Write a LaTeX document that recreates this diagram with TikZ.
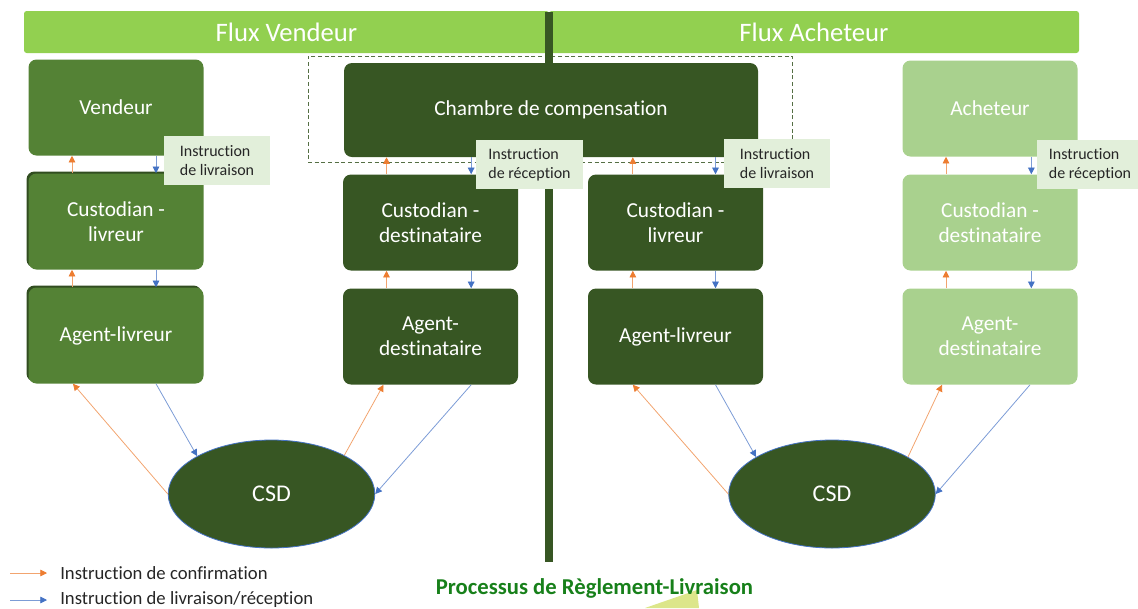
\documentclass[tikz,border=0pt]{standalone}
\usepackage{fontspec}
\setmainfont{Carlito}[Ligatures=NoCommon]
\usetikzlibrary{arrows.meta,shapes.geometric,shadows}
\definecolor{barGreen}{HTML}{92D050}
\definecolor{midGreen}{HTML}{548235}
\definecolor{darkGreen}{HTML}{375623}
\definecolor{paleGreen}{HTML}{A9D18E}
\definecolor{noteGreen}{HTML}{E2EFDA}
\definecolor{confOrange}{HTML}{ED7D31}
\definecolor{instBlue}{HTML}{4472C4}
\definecolor{titleGreen}{HTML}{17801A}
\definecolor{glowYellow}{HTML}{DCE68A}
\tikzstyle{header} = [rectangle, fill=barGreen, rounded corners=2pt, text=white, text centered, minimum height=31.5pt, font=\fontsize{20}{22}\selectfont]
\tikzstyle{party} = [rectangle, rounded corners=6pt, text=white, text centered, align=center, minimum width=131.25pt, minimum height=72pt, font=\fontsize{16}{19}\selectfont]
\tikzstyle{seller} = [party, fill=midGreen]
\tikzstyle{sellershadow} = [seller, drop shadow={shadow xshift=-1.5pt, shadow yshift=1.5pt, fill=darkGreen!90!black, opacity=1}]
\tikzstyle{middle} = [party, fill=darkGreen]
\tikzstyle{buyer} = [party, fill=paleGreen]
\tikzstyle{note} = [rectangle, fill=noteGreen, text=black!85, align=left, inner sep=4pt, minimum width=80pt, minimum height=36.75pt, font=\fontsize{12}{14}\selectfont]
\tikzstyle{depot} = [ellipse, fill=darkGreen, draw=instBlue, line width=0.6pt, text=white, minimum width=155pt, minimum height=81pt, font=\fontsize{18}{20}\selectfont]
\tikzstyle{dashframe} = [rectangle, draw=darkGreen!85, dash pattern=on 3pt off 2pt, line width=0.7pt]
\tikzstyle{confirm} = [line width=0.6pt, draw=confOrange!70, -{Triangle[length=5pt,width=5pt,color=confOrange]}]
\tikzstyle{instruct} = [line width=0.6pt, draw=instBlue!70, -{Triangle[length=5pt,width=5pt,color=instBlue]}]
\tikzstyle{legendtext} = [anchor=west, inner sep=0pt, text=black!85, font=\fontsize{14}{16}\selectfont]

\begin{document}
\begin{tikzpicture}[x=0.75pt, y=-0.75pt, node distance=85.5pt]
        \useasboundingbox (0,0) rectangle (1138,608);
        % bandeau du haut
        \node (fluxV) [header, minimum width=393.75pt] at (286.5,32) {Flux Vendeur};
        \node (fluxA) [header, minimum width=397.5pt] at (814,32) {Flux Acheteur};
        % cadre + separation
        \node (cadre) [dashframe, minimum width=363pt, minimum height=79.5pt] at (550,109) {};
        \coordinate (divtop) at (549,12);
        \coordinate (divbot) at (549,562);
        \draw [darkGreen, line width=6pt] (divtop) -- (divbot);
        \node (chambre) [middle, minimum width=310.5pt, minimum height=70.5pt] at (551,110) {Chambre de compensation};
        % colonne vendeur
        \node (vendeur) [seller] at (116,107.5) {Vendeur};
        \node (custA) [sellershadow, below of = vendeur] {Custodian -\\livreur};
        \node (agentA) [sellershadow, below of = custA] {Agent-livreur};
        % colonne destinataire (vendeur)
        \node (custB) [middle] at (430.5,222.5) {Custodian -\\destinataire};
        \node (agentB) [middle, below of = custB] {Agent-\\destinataire};
        % colonne livreur (acheteur)
        \node (custC) [middle] at (675.5,222.5) {Custodian -\\livreur};
        \node (agentC) [middle, below of = custC] {Agent-livreur};
        % colonne acheteur
        \node (acheteur) [buyer] at (990,108.5) {Acheteur};
        \node (custD) [buyer, below of = acheteur] {Custodian -\\destinataire};
        \node (agentD) [buyer, below of = custD] {Agent-\\destinataire};
        % depositaires
        \node (csdA) [depot] at (271.5,494) {CSD};
        \node (csdB) [depot] at (832,494) {CSD};
        % etiquettes
        \node (noteA) [note] at (217,160.5) {Instruction\\de livraison};
        \node (noteB) [note] at (529.5,164.5) {Instruction\\de réception};
        \node (noteC) [note] at (777,163.5) {Instruction\\de livraison};
        \node (noteD) [note] at (1090,164.5) {Instruction\\de réception};
        % fleches verticales
        \draw [confirm] ([xshift=-33pt]custA.north) -- ([xshift=-33pt]vendeur.south);
        \draw [instruct] ([xshift=30pt]vendeur.south) -- ([xshift=30pt]custA.north);
        \draw [confirm] ([xshift=-33pt]agentA.north) -- ([xshift=-33pt]custA.south);
        \draw [instruct] ([xshift=30pt]custA.south) -- ([xshift=30pt]agentA.north);
        \draw [confirm] ([xshift=-33pt]custB.north) -- ([xshift=-33pt]custB.north |- chambre.south);
        \draw [instruct] ([xshift=30.5pt]custB.north |- chambre.south) -- ([xshift=30.5pt]custB.north);
        \draw [confirm] ([xshift=-33pt]agentB.north) -- ([xshift=-33pt]custB.south);
        \draw [instruct] ([xshift=30.5pt]custB.south) -- ([xshift=30.5pt]agentB.north);
        \draw [confirm] ([xshift=-32pt]custC.north) -- ([xshift=-32pt]custC.north |- chambre.south);
        \draw [instruct] ([xshift=30pt]custC.north |- chambre.south) -- ([xshift=30pt]custC.north);
        \draw [confirm] ([xshift=-32pt]agentC.north) -- ([xshift=-32pt]custC.south);
        \draw [instruct] ([xshift=30pt]custC.south) -- ([xshift=30pt]agentC.north);
        \draw [confirm] ([xshift=-33pt]custD.north) -- ([xshift=-33pt]acheteur.south);
        \draw [instruct] ([xshift=31pt]acheteur.south) -- ([xshift=31pt]custD.north);
        \draw [confirm] ([xshift=-33pt]agentD.north) -- ([xshift=-33pt]custD.south);
        \draw [instruct] ([xshift=31pt]custD.south) -- ([xshift=31pt]agentD.north);
        % fleches vers les CSD
        \draw [confirm] (csdA.west) -- ([xshift=-32.25pt]agentA.south);
        \draw [instruct] ([xshift=30pt]agentA.south) -- (csdA.153);
        \draw [confirm] (csdA.28) -- ([xshift=-35.25pt]agentB.south);
        \draw [instruct] ([xshift=30.5pt]agentB.south) -- (csdA.east);
        \draw [confirm] (csdB.west) -- ([xshift=-32pt]agentC.south);
        \draw [instruct] ([xshift=30pt]agentC.south) -- (csdB.154);
        \draw [confirm] (csdB.26) -- ([xshift=-36pt]agentD.south);
        \draw [instruct] ([xshift=30pt]agentD.south) -- (csdB.east);
        % legende
        \node (legconf) [legendtext] at (60,573) {Instruction de confirmation};
        \node (leginst) [legendtext] at (60,600) {Instruction de livraison/réception};
        \draw [confirm] ([xshift=-37.5pt]legconf.west) -- ([xshift=-9.75pt]legconf.west);
        \draw [instruct] ([xshift=-37.5pt]leginst.west) -- ([xshift=-9.75pt]leginst.west);
        % titre
        \fill [glowYellow] (645,608) -- (697,590) -- (699,608) -- cycle;
        \node (titre) [text=titleGreen, font=\fontsize{17}{20}\selectfont\bfseries] at (594.5,588) {Processus de Règlement-Livraison};
    \end{tikzpicture}
\end{document}
